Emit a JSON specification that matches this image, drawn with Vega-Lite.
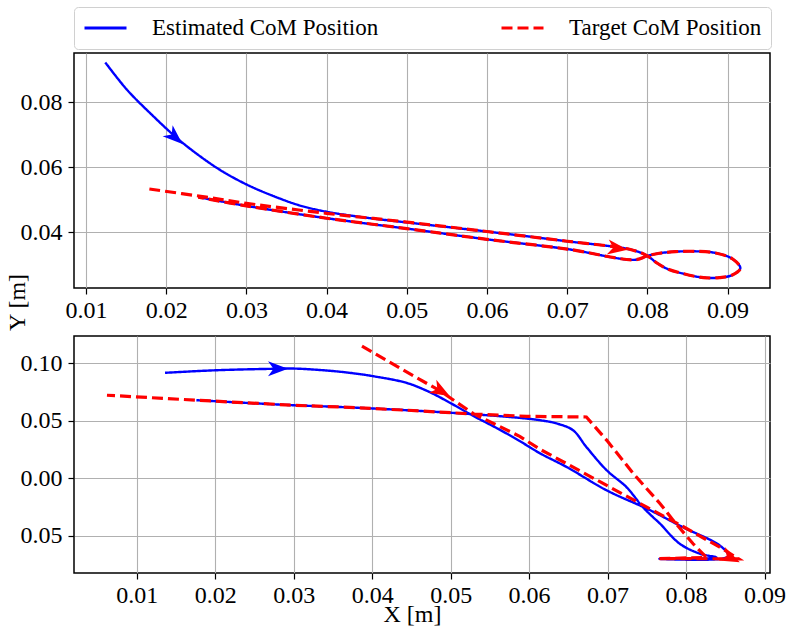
{
  "$schema": "https://vega.github.io/schema/vega-lite/v6.json",
  "autosize": {"type": "pad"},
  "padding": {"left": 4, "top": 6, "right": 3, "bottom": 3},
  "bounds": "flush",
  "spacing": 48,
  "datasets": {
    "top": [
      {"series": "Estimated CoM Position", "i": 0, "x": 0.0124, "y": 0.0923},
      {"series": "Estimated CoM Position", "i": 1, "x": 0.0151, "y": 0.0839},
      {"series": "Estimated CoM Position", "i": 2, "x": 0.0184, "y": 0.0757},
      {"series": "Estimated CoM Position", "i": 3, "x": 0.0211, "y": 0.0695},
      {"series": "Estimated CoM Position", "i": 4, "x": 0.0234, "y": 0.0649},
      {"series": "Estimated CoM Position", "i": 5, "x": 0.0267, "y": 0.0592},
      {"series": "Estimated CoM Position", "i": 6, "x": 0.0301, "y": 0.0546},
      {"series": "Estimated CoM Position", "i": 7, "x": 0.0334, "y": 0.0511},
      {"series": "Estimated CoM Position", "i": 8, "x": 0.0367, "y": 0.0482},
      {"series": "Estimated CoM Position", "i": 9, "x": 0.0400, "y": 0.0463},
      {"series": "Estimated CoM Position", "i": 10, "x": 0.0442, "y": 0.0447},
      {"series": "Estimated CoM Position", "i": 11, "x": 0.0500, "y": 0.0430},
      {"series": "Estimated CoM Position", "i": 12, "x": 0.0600, "y": 0.0402},
      {"series": "Estimated CoM Position", "i": 13, "x": 0.0700, "y": 0.0372},
      {"series": "Estimated CoM Position", "i": 14, "x": 0.0780, "y": 0.0346},
      {"series": "Estimated CoM Position", "i": 15, "x": 0.0800, "y": 0.0327},
      {"series": "Estimated CoM Position", "i": 16, "x": 0.0812, "y": 0.0305},
      {"series": "Estimated CoM Position", "i": 17, "x": 0.0825, "y": 0.0287},
      {"series": "Estimated CoM Position", "i": 18, "x": 0.0845, "y": 0.0272},
      {"series": "Estimated CoM Position", "i": 19, "x": 0.0870, "y": 0.0260},
      {"series": "Estimated CoM Position", "i": 20, "x": 0.0890, "y": 0.0260},
      {"series": "Estimated CoM Position", "i": 21, "x": 0.0906, "y": 0.0268},
      {"series": "Estimated CoM Position", "i": 22, "x": 0.0916, "y": 0.0289},
      {"series": "Estimated CoM Position", "i": 23, "x": 0.0906, "y": 0.0318},
      {"series": "Estimated CoM Position", "i": 24, "x": 0.0885, "y": 0.0336},
      {"series": "Estimated CoM Position", "i": 25, "x": 0.0860, "y": 0.0341},
      {"series": "Estimated CoM Position", "i": 26, "x": 0.0835, "y": 0.0340},
      {"series": "Estimated CoM Position", "i": 27, "x": 0.0815, "y": 0.0335},
      {"series": "Estimated CoM Position", "i": 28, "x": 0.0800, "y": 0.0327},
      {"series": "Estimated CoM Position", "i": 29, "x": 0.0785, "y": 0.0315},
      {"series": "Estimated CoM Position", "i": 30, "x": 0.0700, "y": 0.0348},
      {"series": "Estimated CoM Position", "i": 31, "x": 0.0600, "y": 0.0378},
      {"series": "Estimated CoM Position", "i": 32, "x": 0.0500, "y": 0.0411},
      {"series": "Estimated CoM Position", "i": 33, "x": 0.0400, "y": 0.0443},
      {"series": "Estimated CoM Position", "i": 34, "x": 0.0300, "y": 0.0481},
      {"series": "Estimated CoM Position", "i": 35, "x": 0.0240, "y": 0.0508},
      {"series": "Target CoM Position", "i": 0, "x": 0.0179, "y": 0.0533},
      {"series": "Target CoM Position", "i": 1, "x": 0.0250, "y": 0.0508},
      {"series": "Target CoM Position", "i": 2, "x": 0.0300, "y": 0.0489},
      {"series": "Target CoM Position", "i": 3, "x": 0.0400, "y": 0.0458},
      {"series": "Target CoM Position", "i": 4, "x": 0.0500, "y": 0.0431},
      {"series": "Target CoM Position", "i": 5, "x": 0.0600, "y": 0.0402},
      {"series": "Target CoM Position", "i": 6, "x": 0.0700, "y": 0.0372},
      {"series": "Target CoM Position", "i": 7, "x": 0.0780, "y": 0.0346},
      {"series": "Target CoM Position", "i": 8, "x": 0.0800, "y": 0.0327},
      {"series": "Target CoM Position", "i": 9, "x": 0.0812, "y": 0.0305},
      {"series": "Target CoM Position", "i": 10, "x": 0.0825, "y": 0.0287},
      {"series": "Target CoM Position", "i": 11, "x": 0.0845, "y": 0.0272},
      {"series": "Target CoM Position", "i": 12, "x": 0.0870, "y": 0.0260},
      {"series": "Target CoM Position", "i": 13, "x": 0.0890, "y": 0.0260},
      {"series": "Target CoM Position", "i": 14, "x": 0.0906, "y": 0.0268},
      {"series": "Target CoM Position", "i": 15, "x": 0.0916, "y": 0.0289},
      {"series": "Target CoM Position", "i": 16, "x": 0.0906, "y": 0.0318},
      {"series": "Target CoM Position", "i": 17, "x": 0.0885, "y": 0.0336},
      {"series": "Target CoM Position", "i": 18, "x": 0.0860, "y": 0.0341},
      {"series": "Target CoM Position", "i": 19, "x": 0.0835, "y": 0.0340},
      {"series": "Target CoM Position", "i": 20, "x": 0.0815, "y": 0.0335},
      {"series": "Target CoM Position", "i": 21, "x": 0.0800, "y": 0.0327},
      {"series": "Target CoM Position", "i": 22, "x": 0.0785, "y": 0.0315},
      {"series": "Target CoM Position", "i": 23, "x": 0.0700, "y": 0.0348},
      {"series": "Target CoM Position", "i": 24, "x": 0.0600, "y": 0.0378},
      {"series": "Target CoM Position", "i": 25, "x": 0.0500, "y": 0.0411},
      {"series": "Target CoM Position", "i": 26, "x": 0.0400, "y": 0.0443},
      {"series": "Target CoM Position", "i": 27, "x": 0.0300, "y": 0.0481},
      {"series": "Target CoM Position", "i": 28, "x": 0.0240, "y": 0.0508}
    ],
    "bottom": [
      {"series": "Estimated CoM Position", "i": 0, "x": 0.0136, "y": 0.0915},
      {"series": "Estimated CoM Position", "i": 1, "x": 0.0200, "y": 0.0937},
      {"series": "Estimated CoM Position", "i": 2, "x": 0.0274, "y": 0.0950},
      {"series": "Estimated CoM Position", "i": 3, "x": 0.0300, "y": 0.0952},
      {"series": "Estimated CoM Position", "i": 4, "x": 0.0342, "y": 0.0935},
      {"series": "Estimated CoM Position", "i": 5, "x": 0.0375, "y": 0.0912},
      {"series": "Estimated CoM Position", "i": 6, "x": 0.0401, "y": 0.0886},
      {"series": "Estimated CoM Position", "i": 7, "x": 0.0444, "y": 0.0827},
      {"series": "Estimated CoM Position", "i": 8, "x": 0.0474, "y": 0.0745},
      {"series": "Estimated CoM Position", "i": 9, "x": 0.0499, "y": 0.0655},
      {"series": "Estimated CoM Position", "i": 10, "x": 0.0529, "y": 0.0540},
      {"series": "Estimated CoM Position", "i": 11, "x": 0.0560, "y": 0.0430},
      {"series": "Estimated CoM Position", "i": 12, "x": 0.0588, "y": 0.0322},
      {"series": "Estimated CoM Position", "i": 13, "x": 0.0614, "y": 0.0215},
      {"series": "Estimated CoM Position", "i": 14, "x": 0.0648, "y": 0.0096},
      {"series": "Estimated CoM Position", "i": 15, "x": 0.0699, "y": -0.0107},
      {"series": "Estimated CoM Position", "i": 16, "x": 0.0752, "y": -0.0272},
      {"series": "Estimated CoM Position", "i": 17, "x": 0.0796, "y": -0.0427},
      {"series": "Estimated CoM Position", "i": 18, "x": 0.0843, "y": -0.0586},
      {"series": "Estimated CoM Position", "i": 19, "x": 0.0854, "y": -0.0673},
      {"series": "Estimated CoM Position", "i": 20, "x": 0.0846, "y": -0.0700},
      {"series": "Estimated CoM Position", "i": 21, "x": 0.0766, "y": -0.0702},
      {"series": "Estimated CoM Position", "i": 22, "x": 0.0839, "y": -0.0690},
      {"series": "Estimated CoM Position", "i": 23, "x": 0.0818, "y": -0.0658},
      {"series": "Estimated CoM Position", "i": 24, "x": 0.0792, "y": -0.0571},
      {"series": "Estimated CoM Position", "i": 25, "x": 0.0767, "y": -0.0397},
      {"series": "Estimated CoM Position", "i": 26, "x": 0.0758, "y": -0.0340},
      {"series": "Estimated CoM Position", "i": 27, "x": 0.0745, "y": -0.0253},
      {"series": "Estimated CoM Position", "i": 28, "x": 0.0724, "y": -0.0078},
      {"series": "Estimated CoM Position", "i": 29, "x": 0.0699, "y": 0.0067},
      {"series": "Estimated CoM Position", "i": 30, "x": 0.0673, "y": 0.0270},
      {"series": "Estimated CoM Position", "i": 31, "x": 0.0656, "y": 0.0416},
      {"series": "Estimated CoM Position", "i": 32, "x": 0.0635, "y": 0.0475},
      {"series": "Estimated CoM Position", "i": 33, "x": 0.0614, "y": 0.0503},
      {"series": "Estimated CoM Position", "i": 34, "x": 0.0590, "y": 0.0522},
      {"series": "Estimated CoM Position", "i": 35, "x": 0.0529, "y": 0.0555},
      {"series": "Estimated CoM Position", "i": 36, "x": 0.0444, "y": 0.0590},
      {"series": "Estimated CoM Position", "i": 37, "x": 0.0359, "y": 0.0618},
      {"series": "Estimated CoM Position", "i": 38, "x": 0.0300, "y": 0.0633},
      {"series": "Estimated CoM Position", "i": 39, "x": 0.0176, "y": 0.0677},
      {"series": "Target CoM Position", "i": 0, "x": 0.0387, "y": 0.1147},
      {"series": "Target CoM Position", "i": 1, "x": 0.0436, "y": 0.0953},
      {"series": "Target CoM Position", "i": 2, "x": 0.0486, "y": 0.0760},
      {"series": "Target CoM Position", "i": 3, "x": 0.0529, "y": 0.0560},
      {"series": "Target CoM Position", "i": 4, "x": 0.0588, "y": 0.0363},
      {"series": "Target CoM Position", "i": 5, "x": 0.0614, "y": 0.0250},
      {"series": "Target CoM Position", "i": 6, "x": 0.0648, "y": 0.0125},
      {"series": "Target CoM Position", "i": 7, "x": 0.0699, "y": -0.0064},
      {"series": "Target CoM Position", "i": 8, "x": 0.0750, "y": -0.0253},
      {"series": "Target CoM Position", "i": 9, "x": 0.0792, "y": -0.0405},
      {"series": "Target CoM Position", "i": 10, "x": 0.0843, "y": -0.0601},
      {"series": "Target CoM Position", "i": 11, "x": 0.0867, "y": -0.0702},
      {"series": "Target CoM Position", "i": 12, "x": 0.0766, "y": -0.0700},
      {"series": "Target CoM Position", "i": 13, "x": 0.0826, "y": -0.0690},
      {"series": "Target CoM Position", "i": 14, "x": 0.0809, "y": -0.0571},
      {"series": "Target CoM Position", "i": 15, "x": 0.0784, "y": -0.0370},
      {"series": "Target CoM Position", "i": 16, "x": 0.0767, "y": -0.0223},
      {"series": "Target CoM Position", "i": 17, "x": 0.0733, "y": 0.0038},
      {"series": "Target CoM Position", "i": 18, "x": 0.0699, "y": 0.0328},
      {"series": "Target CoM Position", "i": 19, "x": 0.0673, "y": 0.0531},
      {"series": "Target CoM Position", "i": 20, "x": 0.0597, "y": 0.0537},
      {"series": "Target CoM Position", "i": 21, "x": 0.0529, "y": 0.0557},
      {"series": "Target CoM Position", "i": 22, "x": 0.0444, "y": 0.0590},
      {"series": "Target CoM Position", "i": 23, "x": 0.0359, "y": 0.0618},
      {"series": "Target CoM Position", "i": 24, "x": 0.0300, "y": 0.0633},
      {"series": "Target CoM Position", "i": 25, "x": 0.0176, "y": 0.0677},
      {"series": "Target CoM Position", "i": 26, "x": 0.0062, "y": 0.0720}
    ],
    "arrowsTop": [
      {"series": "Estimated CoM Position", "x": 0.0211, "y": 0.0692, "heading": 42},
      {"series": "Target CoM Position", "x": 0.0763, "y": 0.0350, "heading": 8}
    ],
    "arrowsBottom": [
      {"series": "Estimated CoM Position", "x": 0.0280, "y": 0.0951, "heading": 0},
      {"series": "Target CoM Position", "x": 0.0488, "y": 0.0755, "heading": 30},
      {"series": "Target CoM Position", "x": 0.0857, "y": -0.0694, "heading": 25}
    ]
  },
  "resolve": {
    "scale": {"x": "independent", "y": "independent", "color": "shared", "strokeDash": "shared"},
    "legend": {"color": "shared", "strokeDash": "shared"}
  },
  "config": {
    "font": "Liberation Serif",
    "view": {"stroke": "black", "strokeWidth": 1.5},
    "axis": {
      "domain": false,
      "labelFont": "Liberation Serif",
      "labelFontSize": 24,
      "labelColor": "black",
      "tickColor": "black",
      "tickSize": 6,
      "tickWidth": 1.2,
      "labelPadding": 4,
      "gridColor": "#b0b0b0",
      "gridWidth": 1.1,
      "titleFont": "Liberation Serif",
      "titleFontSize": 24,
      "titleFontWeight": "normal",
      "titleColor": "black"
    },
    "axisY": {"labelPadding": 6},
    "legend": {
      "orient": "top",
      "offset": 3
    }
  },
  "vconcat": [
    {
      "width": 696,
      "height": 235,
      "data": {"name": "top"},
      "layer": [
        {
          "transform": [{"filter": "datum.series === 'Estimated CoM Position'"}],
          "mark": {"type": "line", "strokeWidth": 2.4, "interpolate": "catmull-rom", "clip": true},
          "encoding": {
            "x": {"field": "x", "type": "quantitative", "scale": {"domain": [0.0085, 0.0953], "nice": false, "zero": false},
              "axis": {"title": null, "values": [0.01, 0.02, 0.03, 0.04, 0.05, 0.06, 0.07, 0.08, 0.09], "format": ".2f"}},
            "y": {"field": "y", "type": "quantitative", "scale": {"domain": [0.0228, 0.0952], "nice": false, "zero": false},
              "axis": {"title": "Y [m]", "values": [0.04, 0.06, 0.08], "format": ".2f", "titleAngle": 270, "titleX": -57, "titleY": 249, "titleAlign": "center", "titleBaseline": "middle"}},
            "order": {"field": "i", "type": "quantitative"},
            "color": {"field": "series", "type": "nominal", "title": null,
              "scale": {"domain": ["Estimated CoM Position", "Target CoM Position"], "range": ["#0000ff", "#ff0000"]},
              "legend": {"title": null, "columns": 2, "columnPadding": 116, "labelFont": "Liberation Serif", "labelFontSize": 23, "labelColor": "black", "labelOffset": 45, "labelLimit": 400, "symbolType": "M-1,0H3", "symbolSize": 441, "symbolStrokeWidth": 3, "padding": 9, "strokeColor": "#d0d0d0", "cornerRadius": 4, "fillColor": "white"}},
            "strokeDash": {"field": "series", "type": "nominal", "title": null,
              "scale": {"domain": ["Estimated CoM Position", "Target CoM Position"], "range": [[1, 0], [11, 5]]}}
          }
        },
        {
          "transform": [{"filter": "datum.series === 'Target CoM Position'"}],
          "mark": {"type": "line", "strokeWidth": 3.2, "interpolate": "catmull-rom", "clip": true},
          "encoding": {
            "x": {"field": "x", "type": "quantitative"},
            "y": {"field": "y", "type": "quantitative"},
            "order": {"field": "i", "type": "quantitative"},
            "color": {"field": "series", "type": "nominal", "title": null},
            "strokeDash": {"field": "series", "type": "nominal", "title": null}
          }
        },
        {
          "data": {"name": "arrowsTop"},
          "transform": [{"filter": "datum.series === 'Estimated CoM Position'"}],
          "mark": {"type": "point", "shape": "M1,0L-1,-0.75L-0.45,0L-1,0.75Z", "filled": true, "opacity": 1, "size": 400, "color": "#0000ff"},
          "encoding": {
            "x": {"field": "x", "type": "quantitative"},
            "y": {"field": "y", "type": "quantitative"},
            "angle": {"field": "heading", "type": "quantitative", "scale": null}
          }
        },
        {
          "data": {"name": "arrowsTop"},
          "transform": [{"filter": "datum.series === 'Target CoM Position'"}],
          "mark": {"type": "point", "shape": "M1,0L-1,-0.75L-0.45,0L-1,0.75Z", "filled": true, "opacity": 1, "size": 400, "color": "#ff0000"},
          "encoding": {
            "x": {"field": "x", "type": "quantitative"},
            "y": {"field": "y", "type": "quantitative"},
            "angle": {"field": "heading", "type": "quantitative", "scale": null}
          }
        }
      ]
    },
    {
      "width": 696,
      "height": 237,
      "data": {"name": "bottom"},
      "layer": [
        {
          "transform": [{"filter": "datum.series === 'Estimated CoM Position'"}],
          "mark": {"type": "line", "strokeWidth": 2.4, "interpolate": "catmull-rom", "clip": true},
          "encoding": {
            "x": {"field": "x", "type": "quantitative", "scale": {"domain": [0.0020, 0.0907], "nice": false, "zero": false},
              "axis": {"title": "X [m]", "values": [0.01, 0.02, 0.03, 0.04, 0.05, 0.06, 0.07, 0.08, 0.09], "format": ".2f", "titleX": 338, "titleY": 41, "titleAlign": "center", "titleBaseline": "middle"}},
            "y": {"field": "y", "type": "quantitative", "scale": {"domain": [-0.0825, 0.1235], "nice": false, "zero": false},
              "axis": {"title": null, "values": [0.10, 0.05, 0.0, -0.05], "labelExpr": "format(abs(datum.value), '.2f')"}},
            "order": {"field": "i", "type": "quantitative"},
            "color": {"field": "series", "type": "nominal", "title": null},
            "strokeDash": {"field": "series", "type": "nominal", "title": null}
          }
        },
        {
          "transform": [{"filter": "datum.series === 'Target CoM Position'"}],
          "mark": {"type": "line", "strokeWidth": 3.2, "clip": true},
          "encoding": {
            "x": {"field": "x", "type": "quantitative"},
            "y": {"field": "y", "type": "quantitative"},
            "order": {"field": "i", "type": "quantitative"},
            "color": {"field": "series", "type": "nominal", "title": null},
            "strokeDash": {"field": "series", "type": "nominal", "title": null}
          }
        },
        {
          "data": {"name": "arrowsBottom"},
          "transform": [{"filter": "datum.series === 'Estimated CoM Position'"}],
          "mark": {"type": "point", "shape": "M1,0L-1,-0.75L-0.45,0L-1,0.75Z", "filled": true, "opacity": 1, "size": 400, "color": "#0000ff"},
          "encoding": {
            "x": {"field": "x", "type": "quantitative"},
            "y": {"field": "y", "type": "quantitative"},
            "angle": {"field": "heading", "type": "quantitative", "scale": null}
          }
        },
        {
          "data": {"name": "arrowsBottom"},
          "transform": [{"filter": "datum.series === 'Target CoM Position'"}],
          "mark": {"type": "point", "shape": "M1,0L-1,-0.75L-0.45,0L-1,0.75Z", "filled": true, "opacity": 1, "size": 400, "color": "#ff0000"},
          "encoding": {
            "x": {"field": "x", "type": "quantitative"},
            "y": {"field": "y", "type": "quantitative"},
            "angle": {"field": "heading", "type": "quantitative", "scale": null}
          }
        }
      ]
    }
  ]
}
